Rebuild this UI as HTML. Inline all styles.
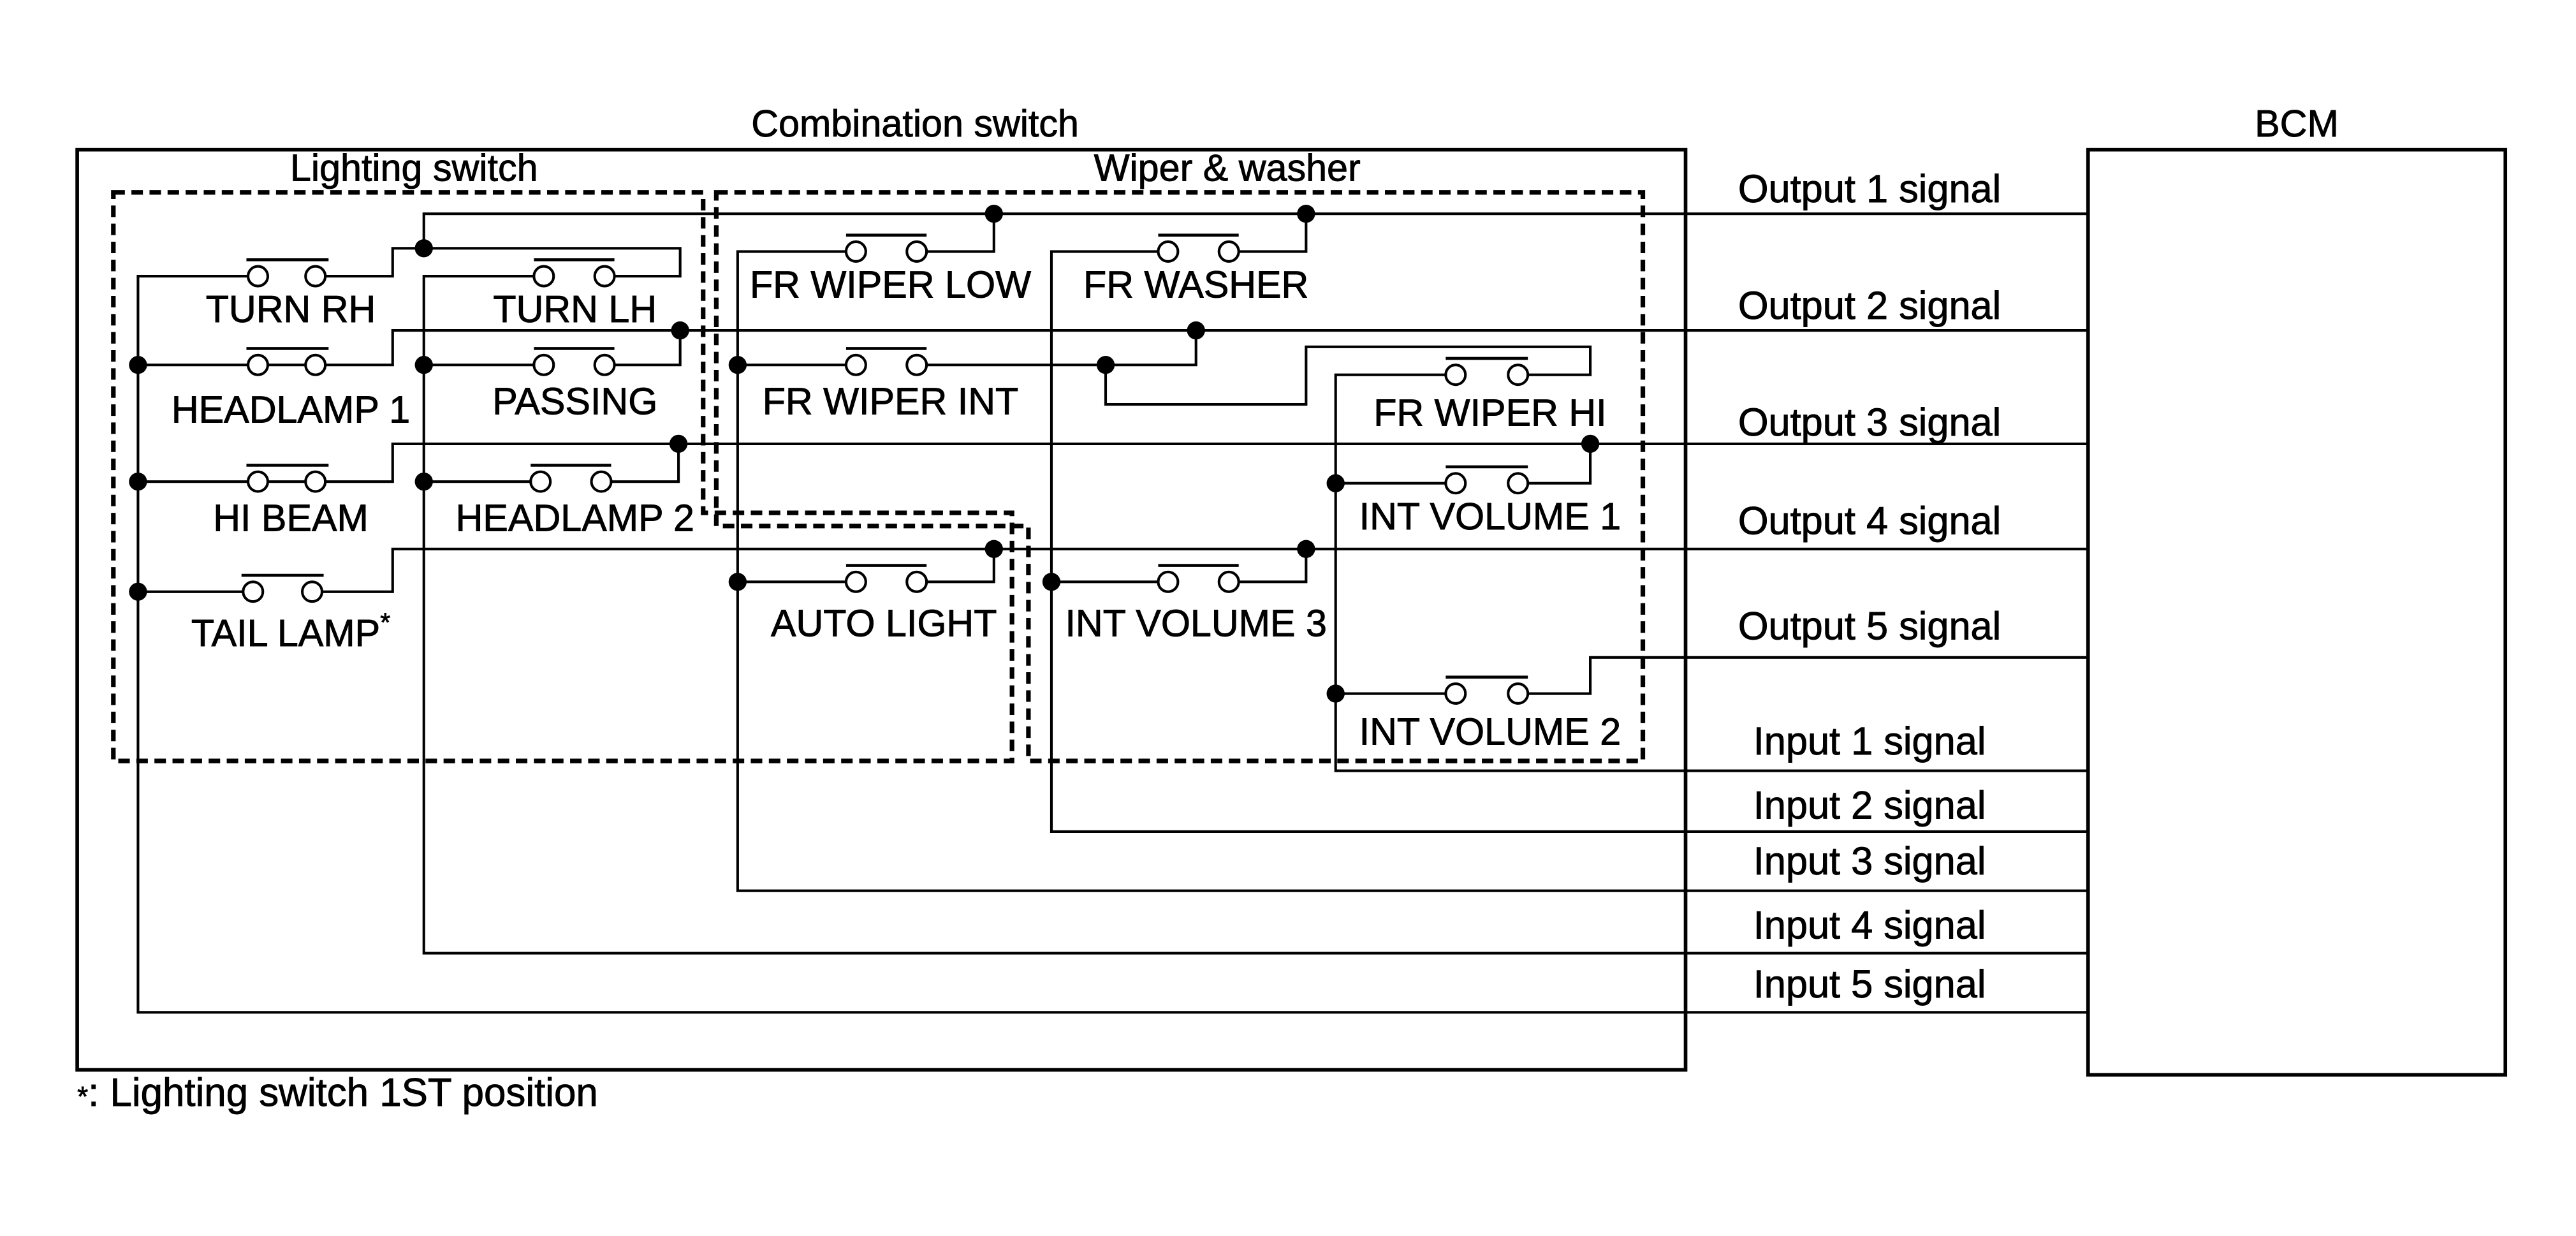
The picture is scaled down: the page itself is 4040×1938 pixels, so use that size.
<!DOCTYPE html>
<html><head><style>html,body{margin:0;padding:0;background:#fff}svg{display:block}</style></head>
<body>
<svg width="4040" height="1938" viewBox="0 0 1568 752" xmlns="http://www.w3.org/2000/svg">
<rect width="1568" height="752" fill="#fff"/>
<g fill="none" stroke="#000">
<rect x="47" y="91" width="979" height="560" stroke-width="2.2"/>
<rect x="1271" y="91" width="254" height="563" stroke-width="2.2"/>
<g stroke-width="2.8" stroke-dasharray="7,4">
<path d="M69 117 H428 V312 H616 V463 H69 Z"/>
<path d="M436 117 H1000 V463 H626 V320 H436 Z"/>
</g>
<g stroke-width="1.6">
<path d="M151 168 H84 V616 H1271"/>
<path d="M198 168 H239 V151 H414 V168 H374"/>
<path d="M258 151 V130 H1271"/>
<path d="M325 168 H258 V580 H1271"/>
<path d="M84 222 H151"/><path d="M163 222 H239 V201 H1271"/>
<path d="M258 222 H325"/><path d="M374 222 H414 V201"/>
<path d="M84 293 H151"/><path d="M163 293 H239 V270 H1271"/>
<path d="M258 293 H323"/><path d="M372 293 H413 V270"/>
<path d="M84 360 H148"/><path d="M196 360 H239 V334 H1271"/>
<path d="M515 153 H449 V542 H1271"/>
<path d="M564 153 H605 V130"/>
<path d="M449 222 H515"/><path d="M564 222 H728 V201"/>
<path d="M673 222 V246 H795 V211 H968 V228 H930"/>
<path d="M880 228 H813 V469 H1271"/>
<path d="M705 153 H640 V506 H1271"/>
<path d="M754 153 H795 V130"/>
<path d="M813 294 H880"/><path d="M930 294 H968 V270"/>
<path d="M449 354 H515"/><path d="M564 354 H605 V334"/>
<path d="M640 354 H705"/><path d="M754 354 H795 V334"/>
<path d="M813 422 H880"/><path d="M930 422 H968 V400 H1271"/>
</g>
</g>
<g stroke="#000" stroke-width="1.6" fill="#fff">
<circle cx="157" cy="168" r="6"/><circle cx="192" cy="168" r="6"/>
<circle cx="331" cy="168" r="6"/><circle cx="368" cy="168" r="6"/>
<circle cx="157" cy="222" r="6"/><circle cx="192" cy="222" r="6"/>
<circle cx="331" cy="222" r="6"/><circle cx="368" cy="222" r="6"/>
<circle cx="157" cy="293" r="6"/><circle cx="192" cy="293" r="6"/>
<circle cx="329" cy="293" r="6"/><circle cx="366" cy="293" r="6"/>
<circle cx="154" cy="360" r="6"/><circle cx="190" cy="360" r="6"/>
<circle cx="521" cy="153" r="6"/><circle cx="558" cy="153" r="6"/>
<circle cx="711" cy="153" r="6"/><circle cx="748" cy="153" r="6"/>
<circle cx="521" cy="222" r="6"/><circle cx="558" cy="222" r="6"/>
<circle cx="886" cy="228" r="6"/><circle cx="924" cy="228" r="6"/>
<circle cx="886" cy="294" r="6"/><circle cx="924" cy="294" r="6"/>
<circle cx="521" cy="354" r="6"/><circle cx="558" cy="354" r="6"/>
<circle cx="711" cy="354" r="6"/><circle cx="748" cy="354" r="6"/>
<circle cx="886" cy="422" r="6"/><circle cx="924" cy="422" r="6"/>
</g>
<g stroke="#000" stroke-width="1.8">
<path d="M150 158H200M325 158H374M150 212H200M325 212H374M150 283H200M323 283H372M147 350H197M515 143H564M705 143H754M515 212H564M880 218H930M880 284H930M515 344H564M705 344H754M880 412H930"/>
</g>
<g fill="#000">
<circle cx="258" cy="151" r="5.5"/><circle cx="605" cy="130" r="5.5"/><circle cx="795" cy="130" r="5.5"/>
<circle cx="84" cy="222" r="5.5"/><circle cx="258" cy="222" r="5.5"/><circle cx="414" cy="201" r="5.5"/><circle cx="728" cy="201" r="5.5"/>
<circle cx="84" cy="293" r="5.5"/><circle cx="258" cy="293" r="5.5"/><circle cx="413" cy="270" r="5.5"/><circle cx="968" cy="270" r="5.5"/>
<circle cx="84" cy="360" r="5.5"/><circle cx="605" cy="334" r="5.5"/><circle cx="795" cy="334" r="5.5"/>
<circle cx="449" cy="222" r="5.5"/><circle cx="673" cy="222" r="5.5"/><circle cx="449" cy="354" r="5.5"/><circle cx="640" cy="354" r="5.5"/>
<circle cx="813" cy="294" r="5.5"/><circle cx="813" cy="422" r="5.5"/>
</g>
<g font-family="Liberation Sans, sans-serif" font-size="23" fill="#000" stroke="#000" stroke-width="0.35" text-anchor="middle">
<text x="557" y="83">Combination switch</text>
<text x="1398" y="83">BCM</text>
<text x="252" y="110">Lighting switch</text>
<text x="747" y="110">Wiper &amp; washer</text>
<text x="177" y="196">TURN RH</text>
<text x="350" y="196">TURN LH</text>
<text x="177" y="257">HEADLAMP 1</text>
<text x="350" y="252">PASSING</text>
<text x="177" y="323">HI BEAM</text>
<text x="350" y="323">HEADLAMP 2</text>
<text x="177" y="393">TAIL LAMP<tspan font-size="16" dy="-9">*</tspan></text>
<text x="542" y="181">FR WIPER LOW</text>
<text x="728" y="181">FR WASHER</text>
<text x="542" y="252">FR WIPER INT</text>
<text x="907" y="259">FR WIPER HI</text>
<text x="907" y="322">INT VOLUME 1</text>
<text x="538" y="387">AUTO LIGHT</text>
<text x="728" y="387">INT VOLUME 3</text>
<text x="907" y="453">INT VOLUME 2</text>
<g font-size="23.8">
<text x="1138" y="123">Output 1 signal</text>
<text x="1138" y="194">Output 2 signal</text>
<text x="1138" y="265">Output 3 signal</text>
<text x="1138" y="325">Output 4 signal</text>
<text x="1138" y="389">Output 5 signal</text>
<text x="1138" y="459">Input 1 signal</text>
<text x="1138" y="498">Input 2 signal</text>
<text x="1138" y="532">Input 3 signal</text>
<text x="1138" y="571">Input 4 signal</text>
<text x="1138" y="607">Input 5 signal</text>
</g>
<text x="47" y="673" text-anchor="start" font-size="24"><tspan font-size="17">*</tspan>: Lighting switch 1ST position</text>
</g>
</svg>
</body></html>
